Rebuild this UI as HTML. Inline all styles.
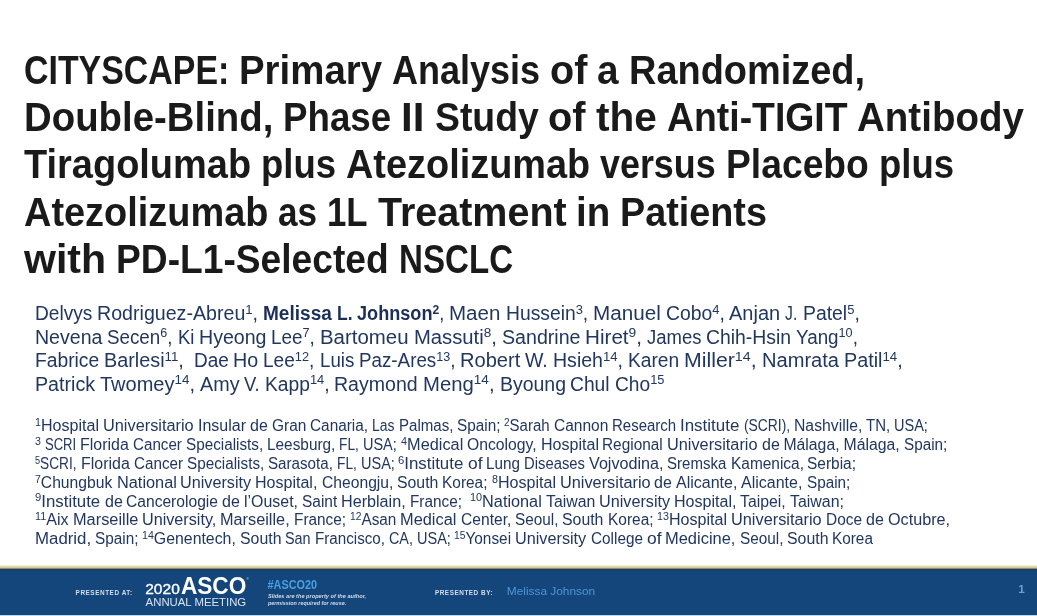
<!DOCTYPE html><html lang="en"><head><meta charset="utf-8"><title>CITYSCAPE</title><style>
html,body{margin:0;padding:0;background:#fff;}
body{width:1037px;height:616px;position:relative;overflow:hidden;font-family:"Liberation Sans",sans-serif;}
.l{position:absolute;white-space:pre;line-height:1;margin:0;}
.l span{display:inline-block;transform-origin:0 0;white-space:pre;vertical-align:baseline;}
.t{font-weight:bold;color:#1a1a1a;font-size:39.8px;}
.a{color:#22375f;font-size:19.5px;}
.f{color:#22375f;font-size:15.8px;}
sup{font-size:67%;line-height:0;vertical-align:baseline;position:relative;top:-0.48em;}
.a b{color:#1b2f58;}
#bar{position:absolute;left:0;top:564px;width:1037px;height:52px;}
</style></head><body>
<div class="l t" style="left:24.10px;top:50.81px"><span style="width:215.17px;transform:scaleX(0.852)">CITYSCAPE: </span><span style="width:152.89px;transform:scaleX(0.965)">Primary </span><span style="width:158.07px;transform:scaleX(0.905)">Analysis </span><span style="width:47.19px;transform:scaleX(0.993)">of </span><span style="width:31.45px;transform:scaleX(0.974)">a </span><span style="width:236.02px;transform:scaleX(0.953)">Randomized,</span></div>
<div class="l t" style="left:24.10px;top:98.11px"><span style="width:259.14px;transform:scaleX(0.964)">Double-Blind, </span><span style="width:118.09px;transform:scaleX(0.922)">Phase </span><span style="width:33.33px;transform:scaleX(1.058)">II </span><span style="width:113.76px;transform:scaleX(0.939)">Study </span><span style="width:47.41px;transform:scaleX(0.998)">of </span><span style="width:70.78px;transform:scaleX(1.019)">the </span><span style="width:190.50px;transform:scaleX(0.939)">Anti-TIGIT </span><span style="width:166.89px;transform:scaleX(0.968)">Antibody</span></div>
<div class="l t" style="left:24.10px;top:145.41px"><span style="width:237.10px;transform:scaleX(0.954)">Tiragolumab </span><span style="width:85.01px;transform:scaleX(0.918)">plus </span><span style="width:254.14px;transform:scaleX(0.952)">Atezolizumab </span><span style="width:125.56px;transform:scaleX(0.901)">versus </span><span style="width:152.78px;transform:scaleX(0.936)">Placebo </span><span style="width:75.12px;transform:scaleX(0.918)">plus</span></div>
<div class="l t" style="left:24.10px;top:192.71px"><span style="width:254.20px;transform:scaleX(0.953)">Atezolizumab </span><span style="width:48.94px;transform:scaleX(0.882)">as </span><span style="width:50.56px;transform:scaleX(0.875)">1L </span><span style="width:198.56px;transform:scaleX(0.992)">Treatment </span><span style="width:44.11px;transform:scaleX(0.967)">in </span><span style="width:146.92px;transform:scaleX(0.949)">Patients</span></div>
<div class="l t" style="left:24.10px;top:240.01px"><span style="width:92.08px;transform:scaleX(1.032)">with </span><span style="width:282.71px;transform:scaleX(0.934)">PD-L1-Selected </span><span style="width:114.01px;transform:scaleX(0.832)">NSCLC</span></div>
<div class="l a" style="left:34.70px;top:304.09px"><span style="width:62.33px;transform:scaleX(0.981)">Delvys </span><span style="width:165.95px;transform:scaleX(1.006)">Rodriguez-Abreu<sup>1</sup>, </span><span style="width:73.78px;transform:scaleX(0.977)"><b>Melissa</b> </span><span style="width:20.48px;transform:scaleX(0.896)"><b>L.</b> </span><span style="width:92.20px;transform:scaleX(0.929)"><b>Johnson<sup>2</sup></b>, </span><span style="width:56.29px;transform:scaleX(1.053)">Maen </span><span style="width:87.14px;transform:scaleX(0.989)">Hussein<sup>3</sup>, </span><span style="width:72.73px;transform:scaleX(1.060)">Manuel </span><span style="width:63.83px;transform:scaleX(0.993)">Cobo<sup>4</sup>, </span><span style="width:56.08px;transform:scaleX(1.025)">Anjan </span><span style="width:17.20px;transform:scaleX(0.808)">J. </span><span style="width:56.78px;transform:scaleX(0.994)">Patel<sup>5</sup>,</span></div>
<div class="l a" style="left:34.70px;top:327.59px"><span style="width:72.41px;transform:scaleX(1.003)">Nevena </span><span style="width:70.46px;transform:scaleX(0.963)">Secen<sup>6</sup>, </span><span style="width:21.35px;transform:scaleX(0.945)">Ki </span><span style="width:72.45px;transform:scaleX(1.004)">Hyeong </span><span style="width:48.84px;transform:scaleX(0.970)">Lee<sup>7</sup>, </span><span style="width:93.49px;transform:scaleX(1.047)">Bartomeu </span><span style="width:87.86px;transform:scaleX(1.038)">Massuti<sup>8</sup>, </span><span style="width:83.53px;transform:scaleX(1.006)">Sandrine </span><span style="width:61.97px;transform:scaleX(1.059)">Hiret<sup>9</sup>, </span><span style="width:59.34px;transform:scaleX(0.947)">James </span><span style="width:90.05px;transform:scaleX(0.994)">Chih-Hsin </span><span style="width:61.85px;transform:scaleX(0.966)">Yang<sup>10</sup>,</span></div>
<div class="l a" style="left:34.70px;top:351.09px"><span style="width:69.16px;transform:scaleX(0.987)">Fabrice </span><span style="width:89.71px;transform:scaleX(1.016)">Barlesi<sup>11</sup>, </span><span style="width:39.78px;transform:scaleX(0.973)">Dae </span><span style="width:30.12px;transform:scaleX(1.009)">Ho </span><span style="width:56.24px;transform:scaleX(0.977)">Lee<sup>12</sup>, </span><span style="width:39.22px;transform:scaleX(0.958)">Luis </span><span style="width:101.35px;transform:scaleX(0.963)">Paz-Ares<sup>13</sup>, </span><span style="width:65.25px;transform:scaleX(1.030)">Robert </span><span style="width:27.75px;transform:scaleX(1.002)">W. </span><span style="width:74.87px;transform:scaleX(1.002)">Hsieh<sup>14</sup>, </span><span style="width:56.15px;transform:scaleX(0.984)">Karen </span><span style="width:77.55px;transform:scaleX(1.091)">Miller<sup>14</sup>, </span><span style="width:82.01px;transform:scaleX(1.030)">Namrata </span><span style="width:58.64px;transform:scaleX(1.013)">Patil<sup>14</sup>,</span></div>
<div class="l a" style="left:34.70px;top:374.59px"><span style="width:65.09px;transform:scaleX(1.009)">Patrick </span><span style="width:99.90px;transform:scaleX(1.026)">Twomey<sup>14</sup>, </span><span style="width:44.49px;transform:scaleX(1.014)">Amy </span><span style="width:20.66px;transform:scaleX(0.944)">V. </span><span style="width:69.60px;transform:scaleX(0.987)">Kapp<sup>14</sup>, </span><span style="width:88.61px;transform:scaleX(1.002)">Raymond </span><span style="width:76.51px;transform:scaleX(1.041)">Meng<sup>14</sup>, </span><span style="width:70.95px;transform:scaleX(0.998)">Byoung </span><span style="width:44.54px;transform:scaleX(0.987)">Chul </span><span style="width:49.45px;transform:scaleX(0.983)">Cho<sup>15</sup></span></div>
<div class="l f" style="left:35.40px;top:418.03px"><span style="width:68.00px;transform:scaleX(1.017)"><sup>1</sup>Hospital </span><span style="width:94.65px;transform:scaleX(1.033)">Universitario </span><span style="width:52.00px;transform:scaleX(1.013)">Insular </span><span style="width:21.82px;transform:scaleX(1.016)">de </span><span style="width:38.25px;transform:scaleX(0.976)">Gran </span><span style="width:61.98px;transform:scaleX(0.972)">Canaria, </span><span style="width:26.50px;transform:scaleX(0.884)">Las </span><span style="width:58.47px;transform:scaleX(0.955)">Palmas, </span><span style="width:47.37px;transform:scaleX(0.969)">Spain; </span><span style="width:49.55px;transform:scaleX(0.949)"><sup>2</sup>Sarah </span><span style="width:58.36px;transform:scaleX(0.983)">Cannon </span><span style="width:68.08px;transform:scaleX(0.948)">Research </span><span style="width:63.26px;transform:scaleX(1.072)">Institute </span><span style="width:50.12px;transform:scaleX(0.877)">(SCRI), </span><span style="width:72.25px;transform:scaleX(0.997)">Nashville, </span><span style="width:28.09px;transform:scaleX(0.948)">TN, </span><span style="width:33.87px;transform:scaleX(0.918)">USA;</span></div>
<div class="l f" style="left:35.40px;top:436.93px"><span style="width:9.88px;transform:scaleX(1.007)"><sup>3</sup> </span><span style="width:35.10px;transform:scaleX(0.825)">SCRI </span><span style="width:52.73px;transform:scaleX(1.010)">Florida </span><span style="width:52.87px;transform:scaleX(0.960)">Cancer </span><span style="width:81.12px;transform:scaleX(0.966)">Specialists, </span><span style="width:72.33px;transform:scaleX(0.973)">Leesburg, </span><span style="width:23.78px;transform:scaleX(0.869)">FL, </span><span style="width:37.76px;transform:scaleX(0.917)">USA; </span><span style="width:66.19px;transform:scaleX(1.032)"><sup>4</sup>Medical </span><span style="width:73.45px;transform:scaleX(0.994)">Oncology, </span><span style="width:61.94px;transform:scaleX(1.016)">Hospital </span><span style="width:64.68px;transform:scaleX(0.974)">Regional </span><span style="width:94.49px;transform:scaleX(1.031)">Universitario </span><span style="width:21.78px;transform:scaleX(1.014)">de </span><span style="width:60.13px;transform:scaleX(1.000)">Málaga, </span><span style="width:60.13px;transform:scaleX(1.000)">Málaga, </span><span style="width:43.33px;transform:scaleX(0.967)">Spain;</span></div>
<div class="l f" style="left:35.40px;top:455.83px"><span style="width:45.47px;transform:scaleX(0.864)"><sup>5</sup>SCRI, </span><span style="width:52.82px;transform:scaleX(1.012)">Florida </span><span style="width:52.96px;transform:scaleX(0.962)">Cancer </span><span style="width:81.25px;transform:scaleX(0.967)">Specialists, </span><span style="width:68.82px;transform:scaleX(0.959)">Sarasota, </span><span style="width:23.82px;transform:scaleX(0.870)">FL, </span><span style="width:37.82px;transform:scaleX(0.918)">USA; </span><span style="width:69.19px;transform:scaleX(1.066)"><sup>6</sup>Institute </span><span style="width:18.50px;transform:scaleX(1.103)">of </span><span style="width:37.87px;transform:scaleX(0.965)">Lung </span><span style="width:64.92px;transform:scaleX(0.938)">Diseases </span><span style="width:78.50px;transform:scaleX(1.022)">Vojvodina, </span><span style="width:63.30px;transform:scaleX(0.952)">Sremska </span><span style="width:76.86px;transform:scaleX(0.977)">Kamenica, </span><span style="width:49.00px;transform:scaleX(0.979)">Serbia;</span></div>
<div class="l f" style="left:35.40px;top:474.73px"><span style="width:81.14px;transform:scaleX(0.991)"><sup>7</sup>Chungbuk </span><span style="width:63.83px;transform:scaleX(1.033)">National </span><span style="width:75.03px;transform:scaleX(1.025)">University </span><span style="width:66.34px;transform:scaleX(1.015)">Hospital, </span><span style="width:75.34px;transform:scaleX(0.991)">Cheongju, </span><span style="width:45.33px;transform:scaleX(1.002)">South </span><span style="width:49.44px;transform:scaleX(0.977)">Korea; </span><span style="width:67.92px;transform:scaleX(1.016)"><sup>8</sup>Hospital </span><span style="width:94.55px;transform:scaleX(1.032)">Universitario </span><span style="width:21.80px;transform:scaleX(1.015)">de </span><span style="width:65.31px;transform:scaleX(1.013)">Alicante, </span><span style="width:65.31px;transform:scaleX(1.013)">Alicante, </span><span style="width:43.36px;transform:scaleX(0.968)">Spain;</span></div>
<div class="l f" style="left:35.40px;top:493.53px"><span style="width:69.17px;transform:scaleX(1.065)"><sup>9</sup>Institute </span><span style="width:21.81px;transform:scaleX(1.016)">de </span><span style="width:95.96px;transform:scaleX(0.988)">Cancerologie </span><span style="width:21.81px;transform:scaleX(1.016)">de </span><span style="width:57.99px;transform:scaleX(1.009)">l’Ouset, </span><span style="width:39.20px;transform:scaleX(0.978)">Saint </span><span style="width:68.65px;transform:scaleX(1.023)">Herblain, </span><span style="width:59.90px;transform:scaleX(0.971)">France; </span><span style="width:75.73px;transform:scaleX(1.029)"><sup>10</sup>National </span><span style="width:53.27px;transform:scaleX(1.003)">Taiwan </span><span style="width:75.08px;transform:scaleX(1.026)">University </span><span style="width:66.38px;transform:scaleX(1.016)">Hospital, </span><span style="width:49.67px;transform:scaleX(1.001)">Taipei, </span><span style="width:53.99px;transform:scaleX(1.008)">Taiwan;</span></div>
<div class="l f" style="left:35.40px;top:512.43px"><span style="width:37.52px;transform:scaleX(1.019)"><sup>11</sup>Aix </span><span style="width:69.29px;transform:scaleX(1.034)">Marseille </span><span style="width:78.25px;transform:scaleX(1.024)">University, </span><span style="width:73.64px;transform:scaleX(1.031)">Marseille, </span><span style="width:56.00px;transform:scaleX(0.972)">France; </span><span style="width:50.32px;transform:scaleX(0.970)"><sup>12</sup>Asan </span><span style="width:60.38px;transform:scaleX(1.036)">Medical </span><span style="width:54.26px;transform:scaleX(0.988)">Center, </span><span style="width:47.43px;transform:scaleX(0.970)">Seoul, </span><span style="width:45.39px;transform:scaleX(1.003)">South </span><span style="width:49.51px;transform:scaleX(0.979)">Korea; </span><span style="width:73.95px;transform:scaleX(1.016)"><sup>13</sup>Hospital </span><span style="width:94.68px;transform:scaleX(1.033)">Universitario </span><span style="width:39.99px;transform:scaleX(0.977)">Doce </span><span style="width:21.83px;transform:scaleX(1.017)">de </span><span style="width:62.06px;transform:scaleX(1.024)">Octubre,</span></div>
<div class="l f" style="left:34.50px;top:531.23px"><span style="width:60.12px;transform:scaleX(1.066)">Madrid, </span><span style="width:47.42px;transform:scaleX(0.970)">Spain; </span><span style="width:97.76px;transform:scaleX(1.004)"><sup>14</sup>Genentech, </span><span style="width:45.43px;transform:scaleX(1.004)">South </span><span style="width:29.55px;transform:scaleX(0.910)">San </span><span style="width:74.02px;transform:scaleX(0.961)">Francisco, </span><span style="width:27.89px;transform:scaleX(0.908)">CA, </span><span style="width:37.86px;transform:scaleX(0.919)">USA; </span><span style="width:61.01px;transform:scaleX(0.973)"><sup>15</sup>Yonsei </span><span style="width:75.20px;transform:scaleX(1.027)">University </span><span style="width:56.00px;transform:scaleX(0.971)">College </span><span style="width:18.52px;transform:scaleX(1.104)">of </span><span style="width:74.43px;transform:scaleX(1.042)">Medicine, </span><span style="width:47.46px;transform:scaleX(0.971)">Seoul, </span><span style="width:45.43px;transform:scaleX(1.004)">South </span><span style="width:40.92px;transform:scaleX(0.971)">Korea</span></div>
<div id="bar">
<svg width="1037" height="52" viewBox="0 0 1037 52" style="display:block">
<rect x="0" y="0" width="1037" height="1" fill="#fdfcf6"/>
<rect x="0" y="1" width="1037" height="1" fill="#f5efda"/>
<rect x="0" y="2" width="1037" height="1" fill="#e3d9a6"/>
<rect x="0" y="3" width="1037" height="1" fill="#d6cc98"/>
<rect x="0" y="4" width="1037" height="1" fill="#7f8f86"/>
<rect x="0" y="5" width="1037" height="1" fill="#24404f"/>
<rect x="0" y="6" width="1037" height="1" fill="#1c406c"/>
<rect x="0" y="7" width="1037" height="43" fill="#14467c"/>
<rect x="0" y="50" width="1037" height="1" fill="#1a4572"/>
<rect x="0" y="51" width="1037" height="1" fill="#b3dbfa"/>
<g font-family="'Liberation Sans',sans-serif" fill="#fff">
<text transform="translate(75.6,31.1) scale(0.8,1)" font-size="8" font-weight="bold" fill="#d3deed" textLength="70.75" lengthAdjust="spacing">PRESENTED AT:</text>
<text x="145.2" y="30.4" font-size="15.3" textLength="34.6" lengthAdjust="spacingAndGlyphs" stroke="#fff" stroke-width="0.35">2020</text>
<text x="180.9" y="30.4" font-size="23.1" font-weight="bold" textLength="65.4" lengthAdjust="spacingAndGlyphs">ASCO</text>
<text x="246.6" y="16.2" font-size="3" fill="#dfe8f3">®</text>
<text x="145.6" y="42.3" font-size="10.7" textLength="100.6" lengthAdjust="spacingAndGlyphs" fill="#d5e2f1">ANNUAL MEETING</text>
<text x="267.6" y="24.8" font-size="12.3" font-weight="bold" fill="#4aa0e0" textLength="49.4" lengthAdjust="spacingAndGlyphs">#ASCO20</text>
<text x="267.9" y="34.4" font-size="6.1" font-style="italic" font-weight="bold" fill="#cfdbea" textLength="98.3" lengthAdjust="spacingAndGlyphs">Slides are the property of the author,</text>
<text x="267.9" y="40.7" font-size="6.1" font-style="italic" font-weight="bold" fill="#cfdbea" textLength="78.3" lengthAdjust="spacingAndGlyphs">permission required for reuse.</text>
<text transform="translate(434.9,31.1) scale(0.8,1)" font-size="8" font-weight="bold" fill="#d3deed" textLength="72.25" lengthAdjust="spacing">PRESENTED BY:</text>
<text x="506.8" y="31.0" font-size="11.5" fill="#4c96d6" textLength="88.4" lengthAdjust="spacingAndGlyphs">Melissa Johnson</text>
<text x="1018.2" y="28.6" font-size="11.7" font-weight="bold" fill="#6f9dd2">1</text>
</g>
</svg>
</div>

</body></html>
